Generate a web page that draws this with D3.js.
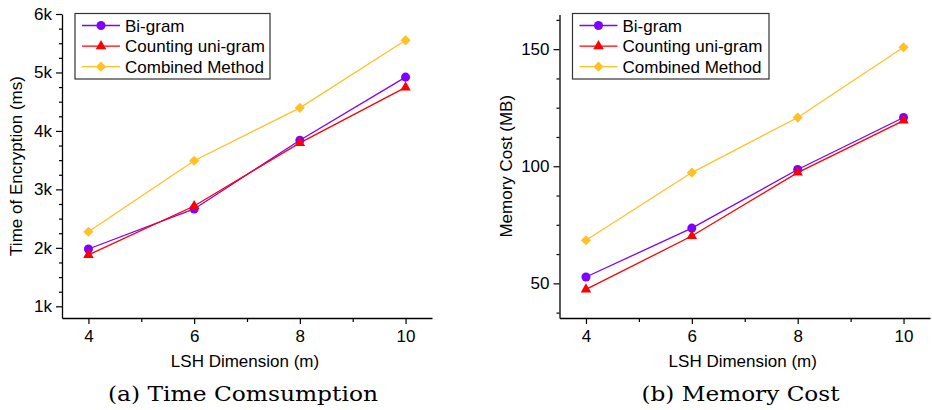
<!DOCTYPE html>
<html>
<head>
<meta charset="utf-8">
<script src="https://cdn.jsdelivr.net/npm/d3@7"></script>
<style>
  html, body { margin: 0; padding: 0; background: #fff; }
  svg { display: block; }
</style>
</head>
<body>
<svg id="chart" width="932" height="410"></svg>
<script>
// LSH dimension (m) on the x axis
const dimensions = [4, 6, 8, 10];
const seriesNames = ["Bi-gram", "Counting uni-gram", "Combined Method"];

// (a) encryption time in ms
const timeBigram   = [1980, 2665, 3840, 4920];
const timeUnigram  = [1880, 2715, 3795, 4745];
const timeCombined = [2275, 3490, 4395, 5550];

// (b) memory cost in MB
const memBigram   = [52.7, 73.6, 98.6, 120.8];
const memUnigram  = [47.4, 70.2, 97.3, 119.5];
const memCombined = [68.4, 97.3, 120.8, 150.8];

const xTicks = [4, 6, 8, 10];
const xMinorTicks = [5, 7, 9];
const timeTicks = [1000, 2000, 3000, 4000, 5000, 6000];
const timeTickLabels = ["1k", "2k", "3k", "4k", "5k", "6k"];
const memTicks = [50, 100, 150];
const memTickLabels = ["50", "100", "150"];

const colors = ["#8000ff", "#ff0000", "#ffc125"];
const sans = "'Liberation Sans', Arial, sans-serif";
const serif = "'DejaVu Serif', serif";
const fs = 17;

const svg = d3.select("#chart");

function markerPath(i) {
  if (i === 0) return d3.symbol(d3.symbolCircle, 64)();
  if (i === 1) return d3.symbol(d3.symbolTriangle, 48)();
  return d3.symbol(d3.symbolSquare, 52)();
}
function markerRotate(i) { return i === 2 ? " rotate(45)" : ""; }

function drawPanel(opt) {
  const g = svg.append("g");
  const x = d3.scaleLinear().domain([3.5, 10.5]).range([opt.left, opt.right]);
  const y = d3.scaleLinear().domain(opt.yDomain).range([opt.bottom, opt.top]);

  // minor ticks
  const yMinor = [];
  for (let v = Math.ceil(opt.yDomain[0] / opt.minorStep) * opt.minorStep; v <= opt.yDomain[1] + 1e-9; v += opt.minorStep) {
    if (!opt.yTicks.some(t => Math.abs(t - v) < 1e-6)) yMinor.push(v);
  }

  g.append("g")
    .attr("transform", `translate(${opt.left},0)`)
    .call(d3.axisLeft(y).tickValues(yMinor).tickSize(3).tickFormat(""))
    .call(a => a.select(".domain").remove())
    .call(a => a.selectAll("line").attr("stroke", "#000").attr("stroke-width", 1.2));

  g.append("g")
    .attr("transform", `translate(0,${opt.bottom})`)
    .call(d3.axisBottom(x).tickValues(xMinorTicks).tickSize(4).tickFormat(""))
    .call(a => a.select(".domain").remove())
    .call(a => a.selectAll("line").attr("stroke", "#000").attr("stroke-width", 1.2));

  // major y axis
  g.append("g")
    .attr("transform", `translate(${opt.left},0)`)
    .call(d3.axisLeft(y).tickValues(opt.yTicks).tickSize(6).tickSizeOuter(0).tickPadding(4)
      .tickFormat((d, i) => opt.yTickLabels[i]))
    .call(a => a.select(".domain").attr("stroke", "#000").attr("stroke-width", 1.3))
    .call(a => a.selectAll("line").attr("stroke", "#000").attr("stroke-width", 1.2))
    .call(a => a.selectAll("text").attr("font-family", sans).attr("font-size", fs).attr("fill", "#000"));

  // major x axis
  g.append("g")
    .attr("transform", `translate(0,${opt.bottom})`)
    .call(d3.axisBottom(x).tickValues(xTicks).tickSize(6).tickSizeOuter(0).tickPadding(6)
      .tickFormat(d3.format("d")))
    .call(a => a.select(".domain").attr("stroke", "#000").attr("stroke-width", 1.3))
    .call(a => a.selectAll("line").attr("stroke", "#000").attr("stroke-width", 1.2))
    .call(a => a.selectAll("text").attr("font-family", sans).attr("font-size", fs).attr("fill", "#000"));

  // series lines and markers
  const line = d3.line().x((d, i) => x(dimensions[i])).y(d => y(d));
  opt.series.forEach((vals, si) => {
    g.append("path")
      .datum(vals)
      .attr("d", line)
      .attr("fill", "none")
      .attr("stroke", colors[si])
      .attr("stroke-width", 1.3);
  });
  opt.series.forEach((vals, si) => {
    g.selectAll(null)
      .data(vals)
      .enter()
      .append("path")
      .attr("d", markerPath(si))
      .attr("transform", (d, i) => `translate(${x(dimensions[i])},${y(d)})${markerRotate(si)}`)
      .attr("fill", colors[si]);
  });

  // axis titles
  g.append("text")
    .attr("x", (opt.left + opt.right) / 2 - 2)
    .attr("y", 367)
    .attr("text-anchor", "middle")
    .attr("font-family", sans)
    .attr("font-size", fs)
    .text("LSH Dimension (m)");

  g.append("text")
    .attr("transform", `translate(${opt.yTitleX},${(opt.top + opt.bottom) / 2}) rotate(-90)`)
    .attr("text-anchor", "middle")
    .attr("dy", "0.35em")
    .attr("font-family", sans)
    .attr("font-size", fs)
    .text(opt.yTitle);

  // legend
  const lg = g.append("g").attr("transform", `translate(${opt.legendX},13.5)`);
  lg.append("rect")
    .attr("width", opt.legendW).attr("height", 65.5)
    .attr("fill", "#fff").attr("stroke", "#333").attr("stroke-width", 1.2);
  seriesNames.forEach((name, si) => {
    const ry = 12 + si * 20.6;
    lg.append("line")
      .attr("x1", 7).attr("x2", 45).attr("y1", ry).attr("y2", ry)
      .attr("stroke", colors[si]).attr("stroke-width", 1.3);
    lg.append("path")
      .attr("d", markerPath(si))
      .attr("transform", `translate(26,${ry})${markerRotate(si)}`)
      .attr("fill", colors[si]);
    lg.append("text")
      .attr("x", 50).attr("y", ry).attr("dy", "0.36em")
      .attr("font-family", sans).attr("font-size", fs)
      .text(name);
  });

  // caption
  g.append("text")
    .attr("x", opt.captionX)
    .attr("y", 401)
    .attr("text-anchor", "middle")
    .attr("font-family", serif)
    .attr("font-size", 21)
    .attr("textLength", opt.captionW)
    .attr("lengthAdjust", "spacingAndGlyphs")
    .text(opt.caption);
}

drawPanel({
  left: 62, right: 432, top: 14, bottom: 318,
  yDomain: [800, 6000], minorStep: 250,
  yTicks: timeTicks, yTickLabels: timeTickLabels,
  series: [timeBigram, timeUnigram, timeCombined],
  yTitle: "Time of Encryption (ms)", yTitleX: 16,
  legendX: 75, legendW: 195,
  caption: "(a) Time Comsumption", captionX: 243, captionW: 270
});

drawPanel({
  left: 559.5, right: 930, top: 14.5, bottom: 318,
  yDomain: [35.2, 164.8], minorStep: 12.5,
  yTicks: memTicks, yTickLabels: memTickLabels,
  series: [memBigram, memUnigram, memCombined],
  yTitle: "Memory Cost (MB)", yTitleX: 506,
  legendX: 572.5, legendW: 196.5,
  caption: "(b) Memory Cost", captionX: 740.5, captionW: 198
});
</script>
</body>
</html>
